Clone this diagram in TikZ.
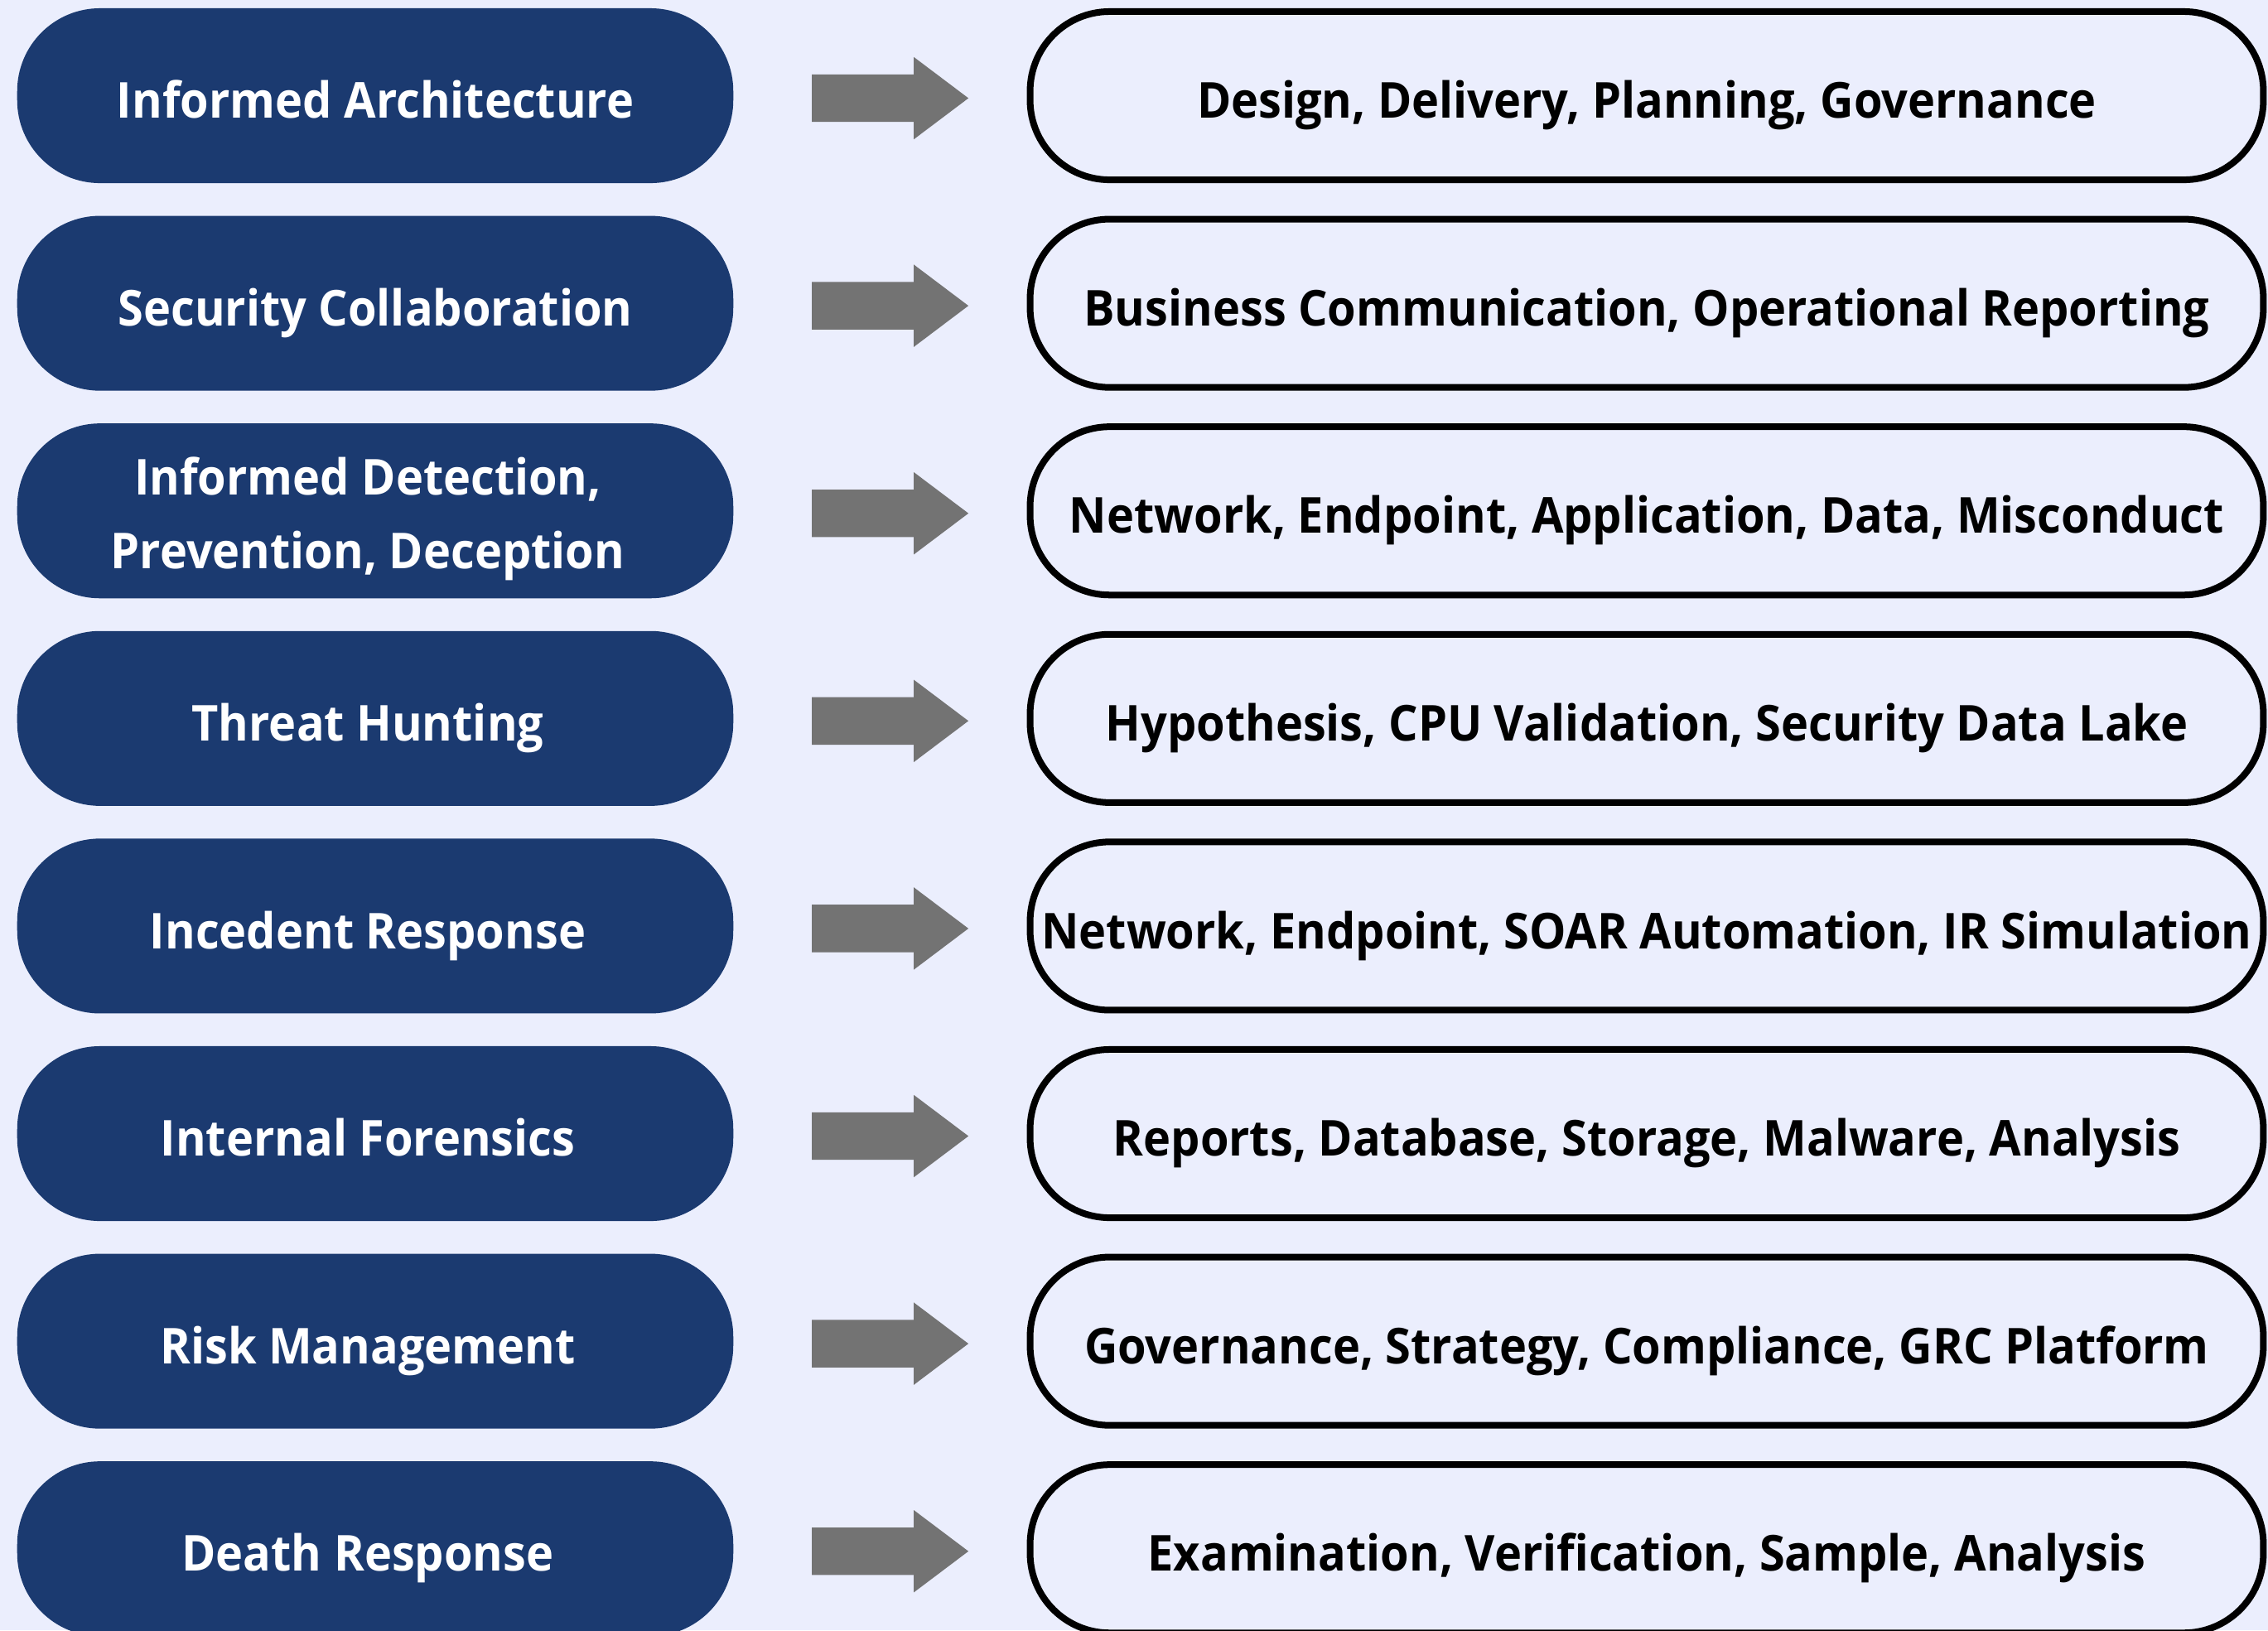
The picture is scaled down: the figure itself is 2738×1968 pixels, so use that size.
\documentclass[tikz,border=0pt]{standalone}
\usepackage{fontspec}
\setmainfont{Open Sans}[FakeStretch=0.935]
\usetikzlibrary{shapes.arrows}
\definecolor{bgc}{HTML}{EBEEFD}
\definecolor{navy}{HTML}{1B3A70}
\definecolor{arrowgray}{HTML}{737373}
\newcommand\sh{\hspace*{5.1pt}}
\begin{document}
\begin{tikzpicture}[x=0.01cm,y=-0.01cm,
  lbl/.style={font=\fontsize{17}{25.3}\selectfont\bfseries, align=center, inner sep=0pt,
    text height=15.4pt, text depth=0pt},
  twoline/.style={text height=39.5pt, text depth=0pt},
  leftbox/.style={lbl, rectangle, rounded corners=1cm, fill=navy, text=white,
    minimum width=8.64cm, minimum height=2.11cm},
  rightbox/.style={lbl, rectangle, rounded corners=0.96cm, draw=black, line width=0.08cm,
    text=black, minimum width=14.88cm, minimum height=2.03cm},
  blockarrow/.style={single arrow, fill=arrowgray, draw=none, inner xsep=0pt, inner ysep=0.28cm,
    minimum height=1.89cm, single arrow head extend=0.21cm, single arrow tip angle=74}]
\fill[bgc] (0,0) rectangle (2738,1968);
\useasboundingbox (0,0) rectangle (2738,1968);
\foreach \i/\l/\r/\st in {
  0/{Informed Architecture}/{Design, Delivery, Planning, Governance}/{},
  1/{Security Collaboration}/{Business Communication, Operational Reporting}/{},
  2/{Informed Detection,\sh\\Prevention, Deception\sh}/{Network, Endpoint, Application, Data, Misconduct}/twoline,
  3/{Threat Hunting\sh}/{Hypothesis, CPU Validation, Security Data Lake}/{},
  4/{Incedent Response\sh}/{Network, Endpoint, SOAR Automation, IR Simulation}/{},
  5/{Internal Forensics\sh}/{Reports, Database, Storage, Malware, Analysis}/{},
  6/{Risk Management\sh}/{Governance, Strategy, Compliance, GRC Platform}/{},
  7/{Death Response\sh}/{Examination, Verification, Sample, Analysis}/{}}{
  \pgfmathsetmacro\yy{115.5+250.6*\i}
  \node[leftbox,\st] (L\i) at (453,\yy) {\l};
  \node[rightbox] (R\i) at (1988,\yy) {\r};
  \node[blockarrow] (A\i) at (1055.5,\yy+3) {};
}
\end{tikzpicture}
\end{document}
